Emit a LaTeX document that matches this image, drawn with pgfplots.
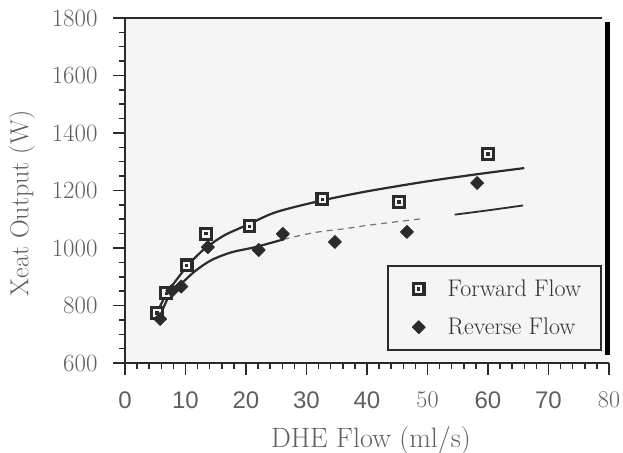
\documentclass[border=0pt]{standalone}
\usepackage{fontspec}
\usepackage{pgfplots}
\pgfplotsset{compat=1.18}
\usetikzlibrary{calc}
\newfontfamily\xsans{Liberation Sans}
\definecolor{axc}{HTML}{2B2B2B}
\definecolor{lblc}{HTML}{5F5F5F}
\definecolor{bgc}{HTML}{F5F5F5}

\pgfdeclareplotmark{sqdot}{%
  \pgfpathrectangle{\pgfpoint{-\pgfplotmarksize}{-\pgfplotmarksize}}{\pgfpoint{2\pgfplotmarksize}{2\pgfplotmarksize}}%
  \pgfusepathqfillstroke
  \begin{pgfscope}%
  \pgfsetfillcolor{axc}%
  \pgfpathrectangle{\pgfpoint{-0.3\pgfplotmarksize}{-0.3\pgfplotmarksize}}{\pgfpoint{0.6\pgfplotmarksize}{0.6\pgfplotmarksize}}%
  \pgfusepathqfill
  \end{pgfscope}%
}

\begin{document}
\begin{tikzpicture}
\begin{axis}[name=ax, scale only axis, width=484pt, height=345pt,
  xmin=0, xmax=80, ymin=600, ymax=1800, clip=false,
  axis lines*=left, axis line style={-, line width=1.6pt, draw=axc},
  axis background/.style={fill=bgc},
  xtick={0,10,...,80}, ytick={600,800,...,1800},
  xticklabels={0,10,20,30,40,{\rmfamily 50},60,70,{\rmfamily\raisebox{8pt}{80}}},
  minor x tick num=4, minor y tick num=3,
  tick align=outside,
  major tick length=12pt, minor tick length=6pt,
  tick style={draw=axc, line width=1.5pt},
  yticklabel style={font=\fontsize{26}{26}\selectfont, text=lblc, xshift=-12pt, /pgf/number format/1000 sep={}},
  xticklabel style={font=\xsans\fontsize{24}{24}\selectfont, text=lblc, yshift=-13pt},
  xlabel={DHE Flow (ml/s)},
  xlabel style={at={(axis description cs:0.508,-0.2435)}, anchor=base, font=\fontsize{28}{32}\selectfont, text=lblc},
  ylabel={Xeat Output (W)},
  ylabel style={at={(axis description cs:-0.2128,0.462)}, anchor=center, font=\fontsize{26}{30}\selectfont, text=lblc},
  legend style={at={(axis description cs:0.9855,0.284)}, anchor=north east, draw=axc, line width=1.8pt, fill=bgc, font=\fontsize{24}{27}\selectfont, text=black!80, inner xsep=6pt, inner ysep=12pt, row sep=16pt},
  legend cell align=left,
  legend image code/.code={\path (0pt,0pt) (50pt,0pt); \draw[#1] plot coordinates {(24pt,0pt)};},
]
% fitted curves
\addplot[forget plot, axc, line width=2.2pt, smooth, tension=0.5] coordinates {
(5,765) (5.5,785) (6.8,838) (8,875) (10.2,935) (12,975) (13.5,1003) (16.5,1045) (20.4,1082) (25,1125) (32.5,1165) (40,1197) (50,1232) (58.7,1258) (66,1278)};
\addplot[forget plot, axc, line width=2.2pt, smooth, tension=0.5] coordinates {
(5,748) (5.8,768) (7.7,850) (9.4,878) (11.6,920) (14.3,958) (17.6,985) (21.5,1003) (26.2,1030)};
\addplot[forget plot, black!55, line width=1.2pt, dash pattern=on 6pt off 5pt, smooth, tension=0.5] coordinates {
(26.2,1030) (31.1,1053) (36.6,1068) (40.5,1080) (48.8,1101)};
\addplot[forget plot, axc, line width=1.8pt, smooth, tension=0.5] coordinates {
(54.5,1116) (60,1131) (65.8,1148)};
% data
\addplot[only marks, mark=sqdot, mark size=5.25pt, mark options={draw=axc, fill=bgc, line width=3.2pt, solid}] coordinates {
(5.3,774) (6.8,843) (10.2,940) (13.4,1049) (20.6,1076) (32.6,1170) (45.3,1160) (60,1327)};
\addlegendentry{Forward Flow\rule{12pt}{0pt}}
\addplot[only marks, mark=square*, mark size=4.6pt, mark options={rotate=45, fill=axc, draw=axc, line width=0.8pt, line join=round, solid}] coordinates {
(5.8,753) (7.8,852) (9.3,866) (13.7,1003) (22.1,993) (26.1,1049) (34.7,1021) (46.6,1056) (58.2,1226)};
\addlegendentry{Reverse Flow\rule[-5pt]{0pt}{0pt}}
\draw[line width=1.4pt, axc] (axis cs:0,1800) -- (axis cs:78.9,1800);
\draw[line width=5pt, black] (axis cs:79.8,1786) -- (axis cs:79.8,628);
\end{axis}
\pgfresetboundingbox
\path[use as bounding box] ($(ax.south west)+(-125pt,-89pt)$) rectangle ($(ax.north east)+(14pt,18pt)$);
\end{tikzpicture}
\end{document}
